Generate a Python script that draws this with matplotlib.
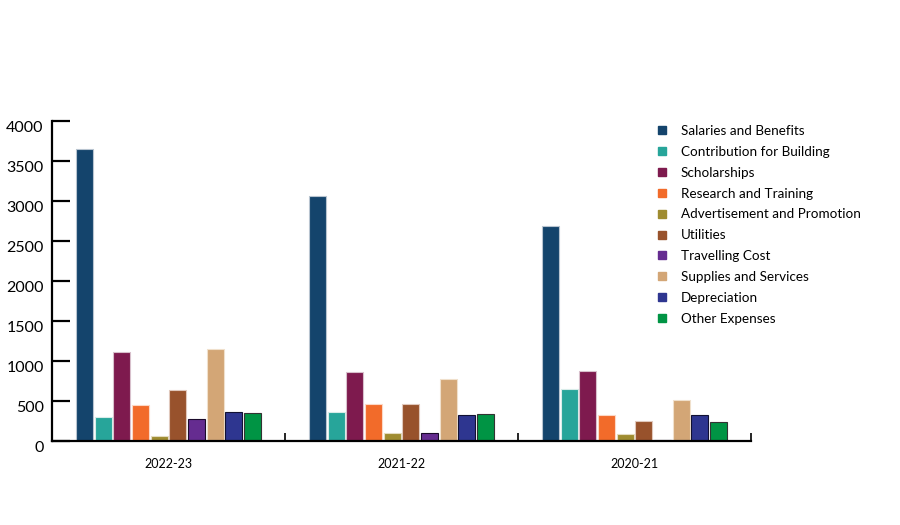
import matplotlib.pyplot as plt
import matplotlib.transforms as mtransforms
from matplotlib.lines import Line2D
import numpy as np

plt.rcParams['font.family'] = ['Lato', 'DejaVu Sans']

# Data
years = ["2022-23", "2021-22", "2020-21"]
series = ["Salaries and Benefits", "Contribution for Building", "Scholarships",
          "Research and Training", "Advertisement and Promotion", "Utilities",
          "Travelling Cost", "Supplies and Services", "Depreciation", "Other Expenses"]
salaries = [3650, 3065, 2690]
contribution = [300, 362, 650]
scholarships = [1110, 866, 871]
research = [448, 458, 322]
advertisement = [68, 96, 87]
utilities = [635, 462, 246]
travelling = [272, 96, 10]
supplies = [1155, 775, 508]
depreciation = [358, 326, 329]
other = [355, 338, 234]
values = [salaries, contribution, scholarships, research, advertisement,
          utilities, travelling, supplies, depreciation, other]

colors = ['#14446c', '#27a59a', '#7e1a4e', '#f26b2a', '#9f8c30',
          '#98522c', '#652c90', '#d3a676', '#2e3690', '#009444']
edges = ['#b8c4d0', '#d8ece9', '#d8c0cc', '#fcd8c6', '#e4dcc0',
         '#e0c8bc', '#1a0a2a', '#f0e0cc', '#111133', '#333333']

fig = plt.figure(figsize=(9, 5.25), dpi=100, facecolor='white')
ax = fig.add_axes([0.0578, 0.16, 0.7766, 0.6095])

x = np.arange(len(years))
step = 0.0802
width = 0.073
for i, (vals, c, e) in enumerate(zip(values, colors, edges)):
    ax.bar(x + (i - 4.5) * step, vals, width=width, color=c,
           edgecolor=e, linewidth=0.8, label=series[i])

ax.set_xlim(-0.5, 2.5)
ax.set_ylim(0, 4000)
ax.set_yticks(np.arange(0, 4001, 500))
ax.tick_params(axis='y', direction='in', length=13, width=1.6, pad=6,
               labelsize=11.5)
# labels in the original sit a few pixels below their ticks
offset = mtransforms.ScaledTranslation(0, -0.05, fig.dpi_scale_trans)
for lab in ax.get_yticklabels():
    lab.set_transform(lab.get_transform() + offset)
ax.set_xticks(x)
ax.set_xticklabels(years)
ax.tick_params(axis='x', which='major', length=0, pad=12, labelsize=9)
ax.set_xticks([0.5, 1.5, 2.5], minor=True)
ax.tick_params(axis='x', which='minor', direction='in', length=6, width=1.2)
for s in ['top', 'right']:
    ax.spines[s].set_visible(False)
ax.spines['left'].set_linewidth(1.6)
ax.spines['bottom'].set_linewidth(1.6)

handles = [Line2D([], [], marker='s', linestyle='none', markersize=6,
                  markerfacecolor=c, markeredgecolor=c) for c in colors]
fig.legend(handles, series, loc='upper left', bbox_to_anchor=(0.722, 0.775),
           frameon=False, fontsize=9.7, labelspacing=0.66, handlelength=0.8,
           handletextpad=1.0, borderpad=0)

fig.savefig("out.png", dpi=100)
